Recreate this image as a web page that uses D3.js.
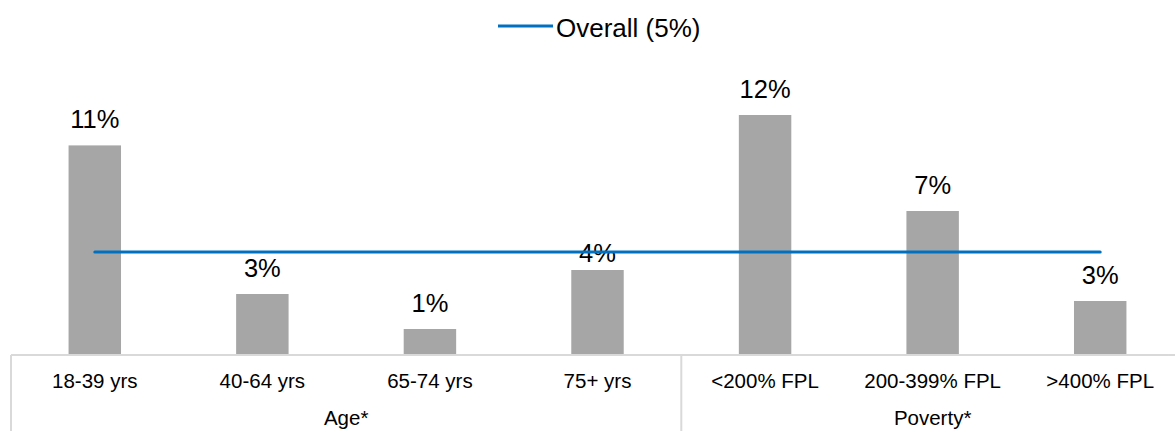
<!DOCTYPE html>
<meta charset="utf-8">
<style>
body{margin:0;background:#fff;}
text{font-family:"Liberation Sans",Arial,sans-serif;fill:#000;}
.bar{fill:#a6a6a6;}
.frame{stroke:#d9d9d9;stroke-width:2px;fill:none;}
</style>
<body>
<script src="https://d3js.org/d3.v7.min.js"></script>
<script>

// data
var categories=["18-39 yrs","40-64 yrs","65-74 yrs","75+ yrs","<200% FPL","200-399% FPL",">400% FPL"];
var groups=["Age*","Age*","Age*","Age*","Poverty*","Poverty*","Poverty*"];
var values=[10.48,3.05,1.3,4.25,12.0,7.2,2.7];
var labels=["11%","3%","1%","4%","12%","7%","3%"];
var overall=5.15;
var legendLabel="Overall (5%)";

var w=1175,h=431;
var baseY=355;

var svg=d3.select("body").append("svg").attr("width",w).attr("height",h);

var x=d3.scaleBand().domain(categories).range([11,1184]).paddingInner(0.687).paddingOuter(0.3435);
var y=d3.scaleLinear().domain([0,12.5]).range([baseY,baseY-250]);
var step=x.step();
var x0=x.range()[0];

// bars
svg.selectAll(".bar").data(values).enter().append("rect").attr("class","bar")
  .attr("x",(d,i)=>x(categories[i]))
  .attr("width",x.bandwidth())
  .attr("y",d=>y(d))
  .attr("height",d=>baseY-y(d));

// value labels (the 4% one sits closer to its bar in the original)
svg.selectAll(".val").data(values).enter().append("text").attr("class","val")
  .attr("x",(d,i)=>x(categories[i])+x.bandwidth()/2)
  .attr("y",(d,i)=>y(d)-(i===3?8:17.5))
  .attr("text-anchor","middle")
  .style("font-size","25.5px")
  .text((d,i)=>labels[i]);

// overall line
svg.append("line")
  .attr("x1",x(categories[0])+x.bandwidth()/2)
  .attr("x2",x(categories[categories.length-1])+x.bandwidth()/2)
  .attr("y1",y(overall)).attr("y2",y(overall))
  .attr("stroke","#0070c0").attr("stroke-width",3).attr("stroke-linecap","round");

// category axis frame
svg.append("line").attr("class","frame").attr("x1",x0).attr("x2",w+20).attr("y1",baseY).attr("y2",baseY);
var groupNames=Array.from(new Set(groups));
var groupSpans=groupNames.map(g=>{
  var idx=groups.map((d,i)=>d===g?i:-1).filter(i=>i>=0);
  return {name:g,start:x0+idx[0]*step,end:x0+(idx[idx.length-1]+1)*step};
});
var edges=[x0].concat(groupSpans.map(s=>s.end));
svg.selectAll(".vline").data(edges).enter().append("line").attr("class","frame")
  .attr("x1",d=>d).attr("x2",d=>d).attr("y1",baseY).attr("y2",h);

svg.selectAll(".cat").data(categories).enter().append("text").attr("class","cat")
  .attr("x",d=>x(d)+x.bandwidth()/2)
  .attr("y",388)
  .attr("text-anchor","middle")
  .style("font-size","20.5px")
  .text(d=>d);

svg.selectAll(".grp").data(groupSpans).enter().append("text").attr("class","grp")
  .attr("x",d=>(d.start+d.end)/2)
  .attr("y",425)
  .attr("text-anchor","middle")
  .style("font-size","20.5px")
  .text(d=>d.name);

// legend
var lg=svg.append("g").attr("transform","translate(498,26)");
lg.append("line").attr("x1",0).attr("x2",55).attr("y1",0).attr("y2",0)
  .attr("stroke","#0070c0").attr("stroke-width",3);
lg.append("text").attr("x",58).attr("y",11).style("font-size","26px").text(legendLabel);

</script>
</body>
